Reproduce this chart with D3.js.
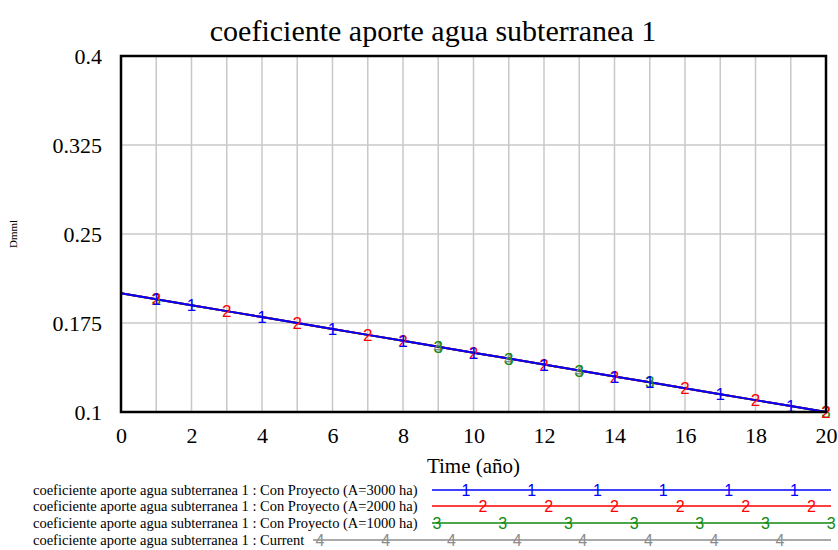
<!DOCTYPE html>
<html>
<head>
<meta charset="utf-8">
<script src="https://cdn.jsdelivr.net/npm/d3@7"></script>
<style>
  body { margin: 0; background: #fff; }
  text { font-family: "Liberation Serif", "Times New Roman", serif; }
  .mark { font-family: "Liberation Sans", Arial, sans-serif; }
</style>
</head>
<body>
<svg id="chart" width="838" height="550"></svg>
<script>
// data
const years = [0, 1, 2, 3, 4, 5, 6, 7, 8, 9, 10, 11, 12, 13, 14, 15, 16, 17, 18, 19, 20];
const a3000 = [0.2, 0.195, 0.19, 0.185, 0.18, 0.175, 0.17, 0.165, 0.16, 0.155, 0.15, 0.145, 0.14, 0.135, 0.13, 0.125, 0.12, 0.115, 0.11, 0.105, 0.1];
const a2000 = [0.2, 0.195, 0.19, 0.185, 0.18, 0.175, 0.17, 0.165, 0.16, 0.155, 0.15, 0.145, 0.14, 0.135, 0.13, 0.125, 0.12, 0.115, 0.11, 0.105, 0.1];
const a1000 = [0.2, 0.195, 0.19, 0.185, 0.18, 0.175, 0.17, 0.165, 0.16, 0.155, 0.15, 0.145, 0.14, 0.135, 0.13, 0.125, 0.12, 0.115, 0.11, 0.105, 0.1];
const current = [0.2, 0.195, 0.19, 0.185, 0.18, 0.175, 0.17, 0.165, 0.16, 0.155, 0.15, 0.145, 0.14, 0.135, 0.13, 0.125, 0.12, 0.115, 0.11, 0.105, 0.1];

// years where each series shows its number marker
const marks1 = [1, 2, 4, 6, 8, 10, 12, 14, 15, 17, 19];
const marks2 = [1, 3, 5, 7, 8, 10, 12, 14, 16, 18, 20];
const marks3 = [1, 9, 11, 13, 15, 20];
const marks4 = [9, 11, 13];

const xTicks = [0, 2, 4, 6, 8, 10, 12, 14, 16, 18, 20];
const yTicks = [0.1, 0.175, 0.25, 0.325, 0.4];
const yTickLabels = ['0.1', '0.175', '0.25', '0.325', '0.4'];

const series = [
    { name: 'coeficiente aporte agua subterranea 1 : Current', values: current, marks: marks4, label: '4', color: '#8c8c8c' },
    { name: 'coeficiente aporte agua subterranea 1 : Con Proyecto (A=1000 ha)', values: a1000, marks: marks3, label: '3', color: '#108a10' },
    { name: 'coeficiente aporte agua subterranea 1 : Con Proyecto (A=2000 ha)', values: a2000, marks: marks2, label: '2', color: '#ff0000' },
    { name: 'coeficiente aporte agua subterranea 1 : Con Proyecto (A=3000 ha)', values: a3000, marks: marks1, label: '1', color: '#0000ff' }
];

const margin = { top: 56, right: 12, bottom: 138, left: 121 };
const width = 838 - margin.left - margin.right;
const height = 550 - margin.top - margin.bottom;

const svg = d3.select('#chart');

const xScale = d3.scaleLinear().domain([0, 20]).range([0, width]);
const yScale = d3.scaleLinear().domain([0.1, 0.4]).range([height, 0]);

const chart = svg.append('g')
    .attr('transform', `translate(${margin.left},${margin.top})`);

// grid
chart.append('g')
    .selectAll('line')
    .data(years.slice(1, -1))
    .join('line')
    .attr('x1', d => xScale(d)).attr('x2', d => xScale(d))
    .attr('y1', 0).attr('y2', height)
    .attr('stroke', '#c8c8c8').attr('stroke-width', 1.5);

chart.append('g')
    .selectAll('line')
    .data(yTicks.slice(1, -1))
    .join('line')
    .attr('x1', 0).attr('x2', width)
    .attr('y1', d => yScale(d)).attr('y2', d => yScale(d))
    .attr('stroke', '#c8c8c8').attr('stroke-width', 1.5);

// axes labels
const xAxis = d3.axisBottom(xScale).tickValues(xTicks).tickSize(0).tickPadding(15);
const yAxis = d3.axisLeft(yScale).tickValues(yTicks).tickSize(0).tickPadding(19)
    .tickFormat((d, i) => yTickLabels[i]);

chart.append('g')
    .attr('transform', `translate(0,${height})`)
    .call(xAxis)
    .call(g => g.select('.domain').remove())
    .selectAll('text')
    .style('font-family', '"Liberation Serif", serif')
    .style('font-size', '22px')
    .attr('fill', '#000');

chart.append('g')
    .call(yAxis)
    .call(g => g.select('.domain').remove())
    .selectAll('text')
    .style('font-family', '"Liberation Serif", serif')
    .style('font-size', '22px')
    .attr('dy', '0.32em')
    .attr('fill', '#000');

// lines
const line = d3.line()
    .x((d, i) => xScale(years[i]))
    .y(d => yScale(d));

series.forEach(s => {
    chart.append('path')
        .datum(s.values)
        .attr('fill', 'none')
        .attr('stroke', s.color)
        .attr('stroke-width', 2)
        .attr('d', line);
});

// number markers
series.forEach(s => {
    chart.append('g')
        .selectAll('text')
        .data(s.marks)
        .join('text')
        .attr('class', 'mark')
        .attr('x', d => xScale(d))
        .attr('y', d => yScale(s.values[years.indexOf(d)]))
        .attr('dy', '0.36em')
        .attr('text-anchor', 'middle')
        .style('font-size', '17px')
        .attr('fill', s.color)
        .text(s.label);
});

// frame
chart.append('rect')
    .attr('width', width).attr('height', height)
    .attr('fill', 'none')
    .attr('stroke', '#000').attr('stroke-width', 2.5);

// title and axis titles
svg.append('text')
    .attr('x', 433).attr('y', 41)
    .attr('text-anchor', 'middle')
    .style('font-size', '30px')
    .text('coeficiente aporte agua subterranea 1');

svg.append('text')
    .attr('x', margin.left + width / 2).attr('y', 473)
    .attr('text-anchor', 'middle')
    .style('font-size', '21px')
    .text('Time (año)');

svg.append('text')
    .attr('transform', `translate(17,${margin.top + yScale(0.25)}) rotate(-90)`)
    .attr('text-anchor', 'middle')
    .style('font-size', '11px')
    .text('Dmml');

// legend
const legendRows = [
    { s: series[3], y: 490, x0: 432, first: 466 },
    { s: series[2], y: 506, x0: 432, first: 483 },
    { s: series[1], y: 523, x0: 432, first: 437 },
    { s: series[0], y: 540, x0: 313, first: 320 }
];
const legendEnd = 831;
const legendStep = 65.7;

legendRows.forEach(r => {
    svg.append('text')
        .attr('x', 33).attr('y', r.y + 5)
        .style('font-size', '14.5px')
        .text(r.s.name);
    svg.append('line')
        .attr('x1', r.x0).attr('x2', legendEnd)
        .attr('y1', r.y).attr('y2', r.y)
        .attr('stroke', r.s.color).attr('stroke-width', 1.5);
    const pos = d3.range(r.first, legendEnd + 1, legendStep);
    svg.append('g')
        .selectAll('text')
        .data(pos)
        .join('text')
        .attr('class', 'mark')
        .attr('x', d => d).attr('y', r.y)
        .attr('dy', '0.36em')
        .attr('text-anchor', 'middle')
        .style('font-size', '16px')
        .attr('fill', r.s.color)
        .text(r.s.label);
});
</script>
</body>
</html>
